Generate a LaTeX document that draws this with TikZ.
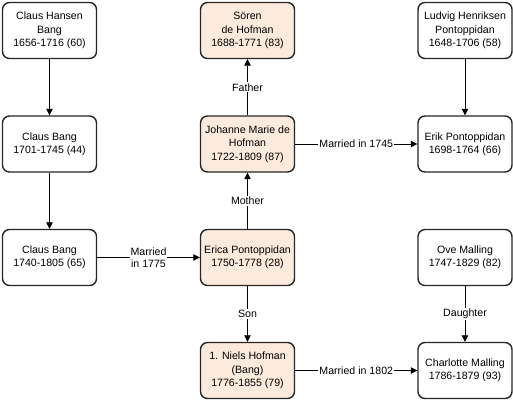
\documentclass[tikz,border=0pt]{standalone}
\usepackage{fontspec}
\setmainfont{Liberation Sans}
\usetikzlibrary{arrows.meta}
\begin{document}
\begin{tikzpicture}[x=1pt,y=-1pt,
  person/.style={draw=black!85, line width=1.4pt, rounded corners=7pt, fill=white,
    minimum width=94pt, minimum height=56pt, align=center, inner sep=1pt,
    font=\fontsize{10.6}{13.3}\selectfont},
  hof/.style={person, fill=peach},
  link/.style={line width=0.8pt, -{Triangle[length=6.5pt,width=6.5pt]}},
  lbl/.style={fill=white, inner sep=1pt, align=center, font=\fontsize{10.6}{12.5}\selectfont}]
\definecolor{peach}{HTML}{FCEADC}
\useasboundingbox (0,0) rectangle (513,400);
% column A
\node[person] (chb) at (49.5,30.5) {Claus Hansen\\Bang\\1656-1716 (60)};
\node[person] (cb1) at (49.5,144) {Claus Bang\\1701-1745 (44)};
\node[person] (cb2) at (49.5,257.5) {Claus Bang\\1740-1805 (65)};
% column B
\node[hof] (sh) at (247.5,30.5) {Sören\\de Hofman\\1688-1771 (83)};
\node[hof] (jm) at (247.5,144) {Johanne Marie de\\Hofman\\1722-1809 (87)};
\node[hof] (ep) at (247.5,257.5) {Erica Pontoppidan\\1750-1778 (28)};
\node[hof] (nh) at (247.5,370.5) {1. Niels Hofman\\(Bang)\\1776-1855 (79)};
% column C
\node[person] (lhp) at (465,30.5) {Ludvig Henriksen\\Pontoppidan\\1648-1706 (58)};
\node[person] (erp) at (465,144) {Erik Pontoppidan\\1698-1764 (66)};
\node[person] (om) at (465,257.5) {Ove Malling\\1747-1829 (82)};
\node[person] (cm) at (465,370.5) {Charlotte Malling\\1786-1879 (93)};
% connectors
\draw[link] (chb) -- (cb1);
\draw[link] (cb1) -- (cb2);
\draw[link] (cb2) -- node[lbl] {Married\\in 1775} (ep);
\draw[link] (jm) -- node[lbl] {Father} (sh);
\draw[link] (ep) -- node[lbl] {Mother} (jm);
\draw[link] (jm) -- node[lbl] {Married in 1745} (erp);
\draw[link] (lhp) -- (erp);
\draw[link] (ep) -- node[lbl] {Son} (nh);
\draw[link] (om) -- node[lbl] {Daughter} (cm);
\draw[link] (nh) -- node[lbl] {Married in 1802} (cm);
\end{tikzpicture}
\end{document}
